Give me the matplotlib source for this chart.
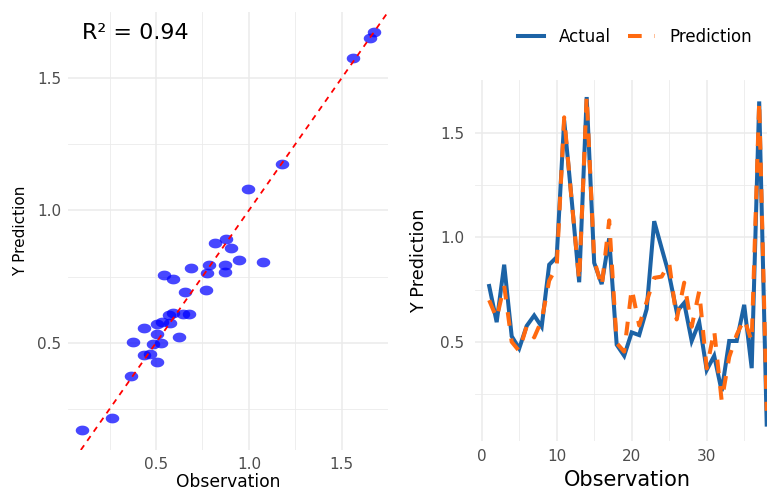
import numpy as np
import matplotlib
matplotlib.use("Agg")
import matplotlib.pyplot as plt
from matplotlib.path import Path

# ---- data ----
index = list(range(1, 39))
actual = [0.767, 0.594, 0.869, 0.527, 0.468, 0.576, 0.626, 0.572, 0.869, 0.905,
          1.559, 1.179, 0.785, 1.671, 0.878, 0.776, 0.995, 0.486, 0.433, 0.545,
          0.532, 0.657, 1.077, 0.947, 0.819, 0.644, 0.686, 0.504, 0.594, 0.365,
          0.433, 0.264, 0.504, 0.504, 0.677, 0.374, 1.650, 0.104]
prediction = [0.699, 0.613, 0.769, 0.500, 0.456, 0.575, 0.521, 0.603, 0.793, 0.858,
              1.574, 1.174, 0.793, 1.674, 0.892, 0.763, 1.081, 0.494, 0.453, 0.754,
              0.578, 0.692, 0.806, 0.812, 0.877, 0.607, 0.783, 0.572, 0.742, 0.373,
              0.554, 0.217, 0.427, 0.534, 0.609, 0.503, 1.651, 0.170]
r2_label = "R\u00b2 = 0.94"
series_names = ["Actual", "Prediction"]

plt.rcParams['font.family'] = ['DejaVu Sans']

W, H = 767, 490
fig = plt.figure(figsize=(W / 100, H / 100), dpi=100)

GRID = "#EBEBEB"
TICKC = "#4D4D4D"

def px_axes(l, r, t, b):
    return fig.add_axes([l / W, 1 - b / H, (r - l) / W, (b - t) / H])

def style(ax):
    for s in ax.spines.values():
        s.set_visible(False)
    ax.tick_params(length=0, colors=TICKC, labelsize=11)
    ax.grid(True, which="major", color=GRID, lw=1.1)
    ax.grid(True, which="minor", color=GRID, lw=0.6)
    ax.set_axisbelow(True)

# ---- left: scatter ----
ax1 = px_axes(68, 388, 12, 450)
style(ax1)
ax1.set_xlim(0.026, 1.749)
ax1.set_ylim(0.095, 1.749)
ax1.set_xticks([0.5, 1.0, 1.5])
ax1.set_yticks([0.5, 1.0, 1.5])
ax1.set_xticks([0.25, 0.75, 1.25], minor=True)
ax1.set_yticks([0.25, 0.75, 1.25], minor=True)
ax1.tick_params(which="minor", length=0)
ax1.tick_params(axis="x", pad=5)
ax1.tick_params(axis="y", pad=5)

t = np.linspace(0, 2 * np.pi, 60)
ell = Path(np.column_stack([np.cos(t), 0.72 * np.sin(t)]), closed=True)
ax1.scatter(actual, prediction, marker=ell, s=95, color="blue", alpha=0.72,
            linewidths=0, zorder=3)
ax1.axline((0, 0), slope=1, color="red", lw=1.3, dashes=(3.2, 3.0), zorder=4)
ax1.text(0.39, 1.671, r2_label, fontsize=16, ha="center", va="center", color="black")
ax1.set_xlabel("Observation", fontsize=12.3, color="black", va="baseline")
ax1.set_ylabel("Y Prediction", fontsize=11, color="black")
ax1.xaxis.set_label_coords(0.5, (450 - 486.5) / 438)
ax1.yaxis.set_label_coords(-0.125, 0.5)

# ---- right: line chart ----
ax2 = px_axes(475.3, 767, 80, 441)
style(ax2)
ax2.set_xlim(-0.85, 38.04)
ax2.set_ylim(0.0255, 1.7525)
ax2.set_xticks([0, 10, 20, 30])
ax2.set_xticks([5, 15, 25, 35], minor=True)
ax2.set_yticks([0.5, 1.0, 1.5])
ax2.set_yticks([0.25, 0.75, 1.25], minor=True)
ax2.tick_params(which="minor", length=0)
ax2.tick_params(axis="x", pad=6)
ax2.tick_params(axis="y", pad=8)

ax2.plot(index, actual, color="#1C63A6", lw=2.9, solid_joinstyle="miter",
         label=series_names[0], zorder=3)
ax2.plot(index, prediction, color="#FF6A10", lw=2.9, dashes=(3.4, 3.2),
         dash_capstyle="butt", label=series_names[1], zorder=4)
ax2.set_xlabel("Observation", fontsize=15, color="black", va="baseline")
ax2.set_ylabel("Y Prediction", fontsize=12.7, color="black")
ax2.xaxis.set_label_coords(0.522, (441 - 486) / 361)
ax2.yaxis.set_label_coords(-0.162, 0.5)

leg = fig.legend(loc="center", bbox_to_anchor=(635 / W, 1 - 37 / H), ncol=2,
                 frameon=False, fontsize=12, handlelength=1.6,
                 handletextpad=0.9, columnspacing=1.0)

fig.savefig("out.png", dpi=100)
